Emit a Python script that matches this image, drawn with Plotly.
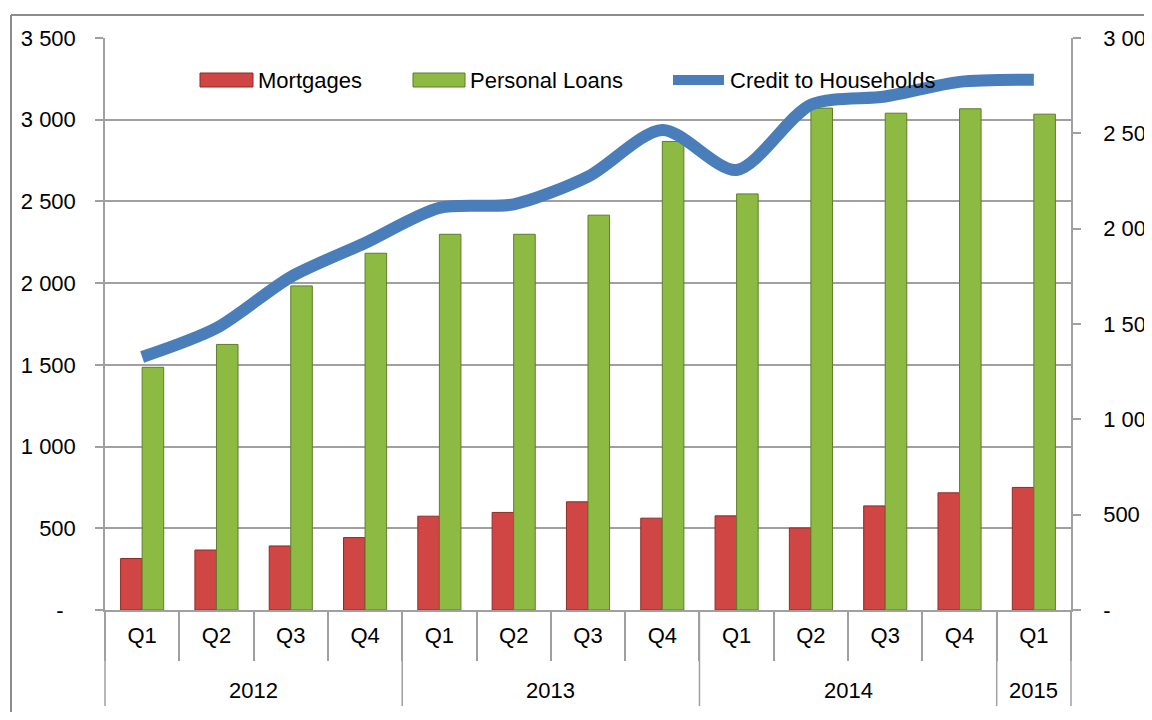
import plotly.graph_objects as go

# ---- data ----
years = ["2012"] * 4 + ["2013"] * 4 + ["2014"] * 4 + ["2015"]
quarters = ["Q1", "Q2", "Q3", "Q4", "Q1", "Q2", "Q3", "Q4", "Q1", "Q2", "Q3", "Q4", "Q1"]
mortgages = [315, 367, 392, 443, 574, 597, 662, 562, 576, 502, 637, 717, 750]
personal_loans = [1485, 1625, 1983, 2183, 2299, 2299, 2416, 2867, 2546, 3071, 3040, 3067, 3034]
credit_households = [1327, 1479, 1747, 1925, 2109, 2128, 2273, 2518, 2308, 2650, 2693, 2770, 2781]

left_ticks = [0, 500, 1000, 1500, 2000, 2500, 3000, 3500]
left_text = ["-\u00a0\u00a0", "500", "1 000", "1 500", "2 000", "2 500", "3 000", "3 500"]
right_ticks = [0, 500, 1000, 1500, 2000, 2500, 3000]
right_text = ["-", "500", "1 000", "1 500", "2 000", "2 500", "3 000"]

# ---- layout geometry (screen px; page body adds an 8px offset) ----
OFF = 8
W, H = 1152 - OFF, 720 - 2 * OFF             # keep the page free of scrollbars
PL, PT, PR, PB = 105, 38, 1071, 610          # plot area edges on screen
ML, MT = PL - OFF, PT - OFF
MR, MB = W - (PR - OFF), H - (PB - OFF)
PW, PH = PR - PL, PB - PT


def px2x(sx):
    return (sx - PL) / PW


def px2y(sy):
    return (PB - sy) / PH


FONT = "Liberation Sans, Arial, sans-serif"
FS = 22
RED, RED_D = "#D04644", "#8E2B29"
GREEN, GREEN_D = "#8DBA42", "#5F7D2A"
BLUE = "#4A7EBB"
GRID = "#A0A0A0"

cats = [f"{y} {q}" for y, q in zip(years, quarters)]

fig = go.Figure()
fig.add_trace(go.Bar(x=cats, y=mortgages, name="Mortgages",
                     marker=dict(color=RED, line=dict(color=RED_D, width=1)),
                     showlegend=False))
fig.add_trace(go.Bar(x=cats, y=personal_loans, name="Personal Loans",
                     marker=dict(color=GREEN, line=dict(color=GREEN_D, width=1)),
                     showlegend=False))
fig.add_trace(go.Scatter(x=cats, y=credit_households, name="Credit to Households",
                         yaxis="y2", mode="lines",
                         line=dict(color=BLUE, width=12, shape="spline", smoothing=0.8),
                         showlegend=False))

fig.update_layout(
    width=W, height=H,
    margin=dict(l=ML, r=MR, t=MT, b=MB, autoexpand=False),
    paper_bgcolor="white", plot_bgcolor="white",
    font=dict(family=FONT, size=FS, color="black"),
    barmode="group", bargap=0.42, bargroupgap=0,
    xaxis=dict(type="category", range=[-0.5, 12.5], tickvals=cats, ticktext=quarters,
               tickson="boundaries", automargin=False,
               showline=True, linecolor=GRID, linewidth=1.5,
               ticks="outside", ticklen=49, tickcolor=GRID, tickwidth=1.5,
               ticklabelstandoff=5,
               showgrid=False, zeroline=False),
    yaxis=dict(range=[0, 3500], tickvals=left_ticks, ticktext=left_text,
               automargin=False,
               showgrid=True, gridcolor=GRID, gridwidth=1.5,
               showline=True, linecolor=GRID, linewidth=1.5,
               ticks="outside", ticklen=8, tickcolor=GRID, tickwidth=1.5,
               ticklabelstandoff=15, zeroline=False),
    yaxis2=dict(range=[0, 3000], tickvals=right_ticks, ticktext=right_text,
                overlaying="y", side="right", showgrid=False, automargin=False,
                showline=True, linecolor=GRID, linewidth=1.5,
                ticks="outside", ticklen=8, tickcolor=GRID, tickwidth=1.5,
                ticklabelstandoff=18, zeroline=False),
)

# year group labels and dividers
groups = []
for i, y in enumerate(years):
    if not groups or groups[-1][0] != y:
        groups.append([y, i, i])
    else:
        groups[-1][2] = i
n = len(cats)
bounds = sorted({g[1] for g in groups} | {n})
for b in bounds:
    fig.add_shape(type="line", xref="paper", yref="paper",
                  x0=b / n, x1=b / n, y0=0, y1=px2y(706),
                  line=dict(color=GRID, width=1.5))
for y, i0, i1 in groups:
    fig.add_annotation(text=y, xref="x", yref="paper", x=(i0 + i1) / 2, y=px2y(690),
                       xanchor="center", yanchor="middle", showarrow=False,
                       font=dict(size=FS, color="black"))

# outer chart border (left and top edges visible)
fig.add_shape(type="line", xref="paper", yref="paper",
              x0=px2x(11), x1=px2x(11), y0=px2y(740), y1=px2y(15),
              line=dict(color="#8C8C8C", width=2), layer="below")
fig.add_shape(type="line", xref="paper", yref="paper",
              x0=px2x(11), x1=px2x(1180), y0=px2y(15), y1=px2y(15),
              line=dict(color="#8C8C8C", width=2), layer="below")

# manual legend (wide symbols like the reference)
legend_items = [
    ("rect", RED, RED_D, 200, 253, 256, "Mortgages"),
    ("rect", GREEN, GREEN_D, 413, 465, 468, "Personal Loans"),
    ("line", BLUE, BLUE, 669, 728, 728, "Credit to Households"),
]
ly = 80
for kind, col, edge, sx0, sx1, tx, label in legend_items:
    if kind == "rect":
        fig.add_shape(type="rect", xref="paper", yref="paper",
                      x0=px2x(sx0), x1=px2x(sx1), y0=px2y(ly + 7), y1=px2y(ly - 7),
                      fillcolor=col, line=dict(color=edge, width=1))
    else:
        fig.add_shape(type="line", xref="paper", yref="paper",
                      x0=px2x(sx0 + 4), x1=px2x(sx1 - 4), y0=px2y(ly), y1=px2y(ly),
                      line=dict(color=col, width=10))
    fig.add_annotation(text=label, xref="paper", yref="paper",
                       x=px2x(tx), y=px2y(ly), xanchor="left", yanchor="middle",
                       showarrow=False, font=dict(size=FS, color="black"))

fig.write_html("out.html")
